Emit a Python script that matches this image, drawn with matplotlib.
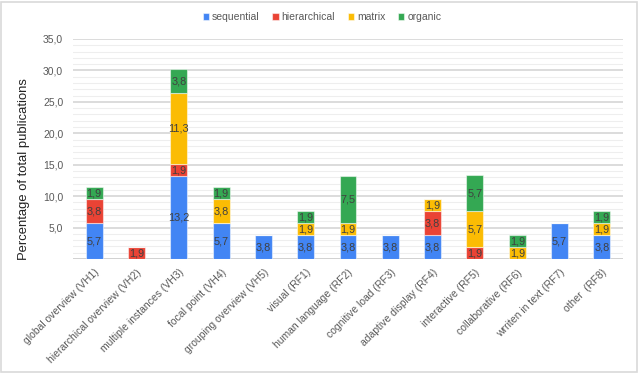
import matplotlib
matplotlib.use("Agg")
import matplotlib.pyplot as plt
from matplotlib.patches import Rectangle
from matplotlib.ticker import MultipleLocator, FuncFormatter
import numpy as np

categories = ["global overview (VH1)", "hierarchical overview (VH2)", "multiple instances (VH3)",
              "focal point (VH4)", "grouping overview (VH5)", "visual (RF1)", "human language (RF2)",
              "cognitive load (RF3)", "adaptive display (RF4)", "interactive (RF5)",
              "collaborative (RF6)", "wrriten in text (RF7)", "other  (RF8)"]
series_names = ["sequential", "hierarchical", "matrix", "organic"]
sequential = [5.7, 0, 13.2, 5.7, 3.8, 3.8, 3.8, 3.8, 3.8, 0, 0, 5.7, 3.8]
hierarchical = [3.8, 1.9, 1.9, 0, 0, 0, 0, 0, 3.8, 1.9, 0, 0, 0]
matrix = [0, 0, 11.3, 3.8, 0, 1.9, 1.9, 0, 1.9, 5.7, 1.9, 0, 1.9]
organic = [1.9, 0, 3.8, 1.9, 0, 1.9, 7.5, 0, 0, 5.7, 1.9, 0, 1.9]
colors = ["#4285F4", "#EA4335", "#FBBC04", "#34A853"]

plt.rcParams['font.family'] = ['Liberation Sans', 'DejaVu Sans']
fig = plt.figure(figsize=(6.4, 3.73), dpi=100)
W, H = 640, 373
ax = fig.add_axes([73 / W, 1 - 259 / H, 550 / W, 220 / H])

x = np.arange(len(categories))
bottom = np.zeros(len(categories))
for name, vals, c in zip(series_names, [sequential, hierarchical, matrix, organic], colors):
    vals = np.array(vals, dtype=float)
    ax.bar(x, vals, width=0.4, bottom=bottom, color=c, label=name,
           edgecolor=(1, 1, 1, 0.5), linewidth=0.8, zorder=3)
    for xi, b, v in zip(x, bottom, vals):
        if v > 0:
            ax.text(xi, b + v / 2, f"{v:.1f}".replace(".", ","), ha="center", va="center",
                    fontsize=7.8, color="#404040", zorder=4)
    bottom += vals

ax.set_xlim(-0.5, len(categories) - 0.5)
ax.set_ylim(0, 35)
ax.yaxis.set_major_locator(MultipleLocator(5))
ax.yaxis.set_minor_locator(MultipleLocator(1))
ax.yaxis.set_major_formatter(FuncFormatter(lambda v, p: "" if v == 0 else f"{v:.1f}".replace(".", ",")))
ax.grid(axis="y", which="major", color="#d9d9d9", linewidth=1.3, zorder=0)
ax.grid(axis="y", which="minor", color="#eeeeee", linewidth=0.8, zorder=0)
ax.axhline(0, color="#d0d0d0", linewidth=1.2, zorder=2)
for s in ax.spines.values():
    s.set_visible(False)
ax.tick_params(axis="both", which="both", length=0, colors="#595959", labelsize=7.5)
ax.tick_params(axis="y", pad=7)
ax.set_xticks(x)
ax.set_xticklabels(categories, rotation=45, ha="right", rotation_mode="anchor")
ax.tick_params(axis="x", pad=6)
ax.set_ylabel("Percentage of total publications", fontsize=9.4, color="#222222")
ax.yaxis.set_label_coords((30 - 73) / 550, (259 - 169) / 220)

handles, labels = ax.get_legend_handles_labels()
fig.legend(handles, labels, loc="center", bbox_to_anchor=(322 / W, 1 - 17 / H), ncol=4,
           frameon=False, fontsize=7.5, labelcolor="#595959", handlelength=0.6, handleheight=0.6,
           handletextpad=0.3, columnspacing=1.2)

fig.patches.append(Rectangle((1 / W, 1 / H), 636 / W, 370 / H, transform=fig.transFigure,
                             fill=False, edgecolor="#d9d9d9", linewidth=1.2))
fig.savefig("out.png", dpi=100)
